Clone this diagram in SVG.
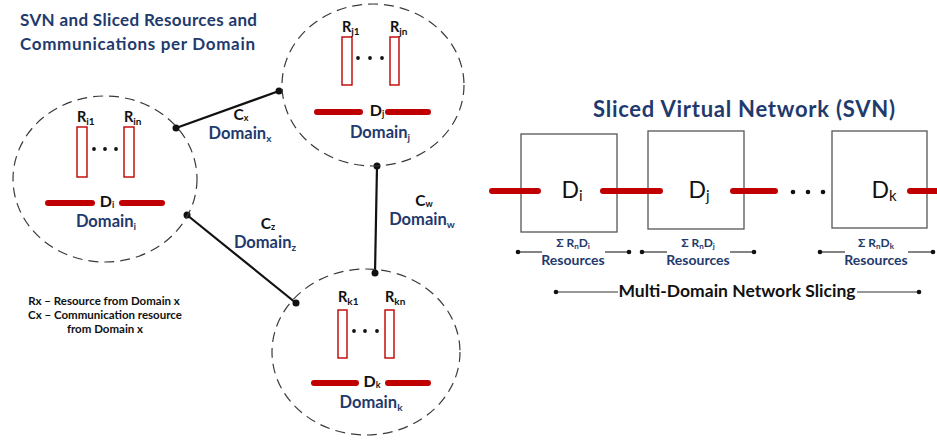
<svg xmlns="http://www.w3.org/2000/svg" width="937" height="441" viewBox="0 0 937 441">
<defs>
<style>
.dom{fill:none;stroke:#3a3a3a;stroke-width:1.2;stroke-dasharray:10 6}
.res{fill:#fff;stroke:#c00000;stroke-width:1.4}
.bar{stroke:#c00000;stroke-width:6;stroke-linecap:round}
.link{stroke:#111;stroke-width:2.2}
.pt{fill:#111}
.thin{stroke:#333;stroke-width:1.2}
.box{fill:#fff;stroke:#555;stroke-width:1.3}
text{font-family:Lato,"Open Sans","Liberation Sans",sans-serif;font-weight:bold}
.blue{fill:#1f3a6d}
.blk{fill:#111}
.rl{font-size:14.5px;fill:#111}
.dl{font-size:16px;fill:#111;text-anchor:middle}
.dn{font-size:16.5px;fill:#1f3a6d;text-anchor:middle}
.cl{font-size:15.5px;fill:#111;text-anchor:middle}
.big{font-size:23px;font-weight:normal;fill:#111;text-anchor:middle}
.sm{font-size:10px}
.xs{font-size:9px}
</style>
</defs>

<text class="blue" x="20" y="26" font-size="17" textLength="237">SVN and Sliced Resources and</text>
<text class="blue" x="20" y="50" font-size="17" textLength="235">Communications per Domain</text>

<g id="connectors">
<line class="link" x1="176" y1="128" x2="279" y2="91"/>
<line class="link" x1="187" y1="215" x2="296" y2="303"/>
<line class="link" x1="377" y1="166" x2="375" y2="273"/>
<circle class="pt" cx="176" cy="128" r="3.5"/>
<circle class="pt" cx="279" cy="91" r="3.5"/>
<circle class="pt" cx="187" cy="215" r="3.5"/>
<circle class="pt" cx="296" cy="303" r="3.5"/>
<circle class="pt" cx="377" cy="166" r="3.5"/>
<circle class="pt" cx="375" cy="273" r="3.5"/>
<text class="cl" x="241" y="120">C<tspan class="xs" dy="1">x</tspan></text>
<text class="dn" x="240" y="139">Domain<tspan class="sm" dy="3">x</tspan></text>
<text class="cl" x="268" y="229">C<tspan class="xs" dy="1">z</tspan></text>
<text class="dn" x="265" y="248">Domain<tspan class="sm" dy="3">z</tspan></text>
<text class="cl" x="424" y="206">C<tspan class="xs" dy="1">w</tspan></text>
<text class="dn" x="422" y="225">Domain<tspan class="sm" dy="3">w</tspan></text>
</g>

<g id="domain-i">
<ellipse class="dom" cx="105" cy="179" rx="92" ry="83"/>
<text class="rl" x="77" y="122">R<tspan class="sm" dy="3">i1</tspan></text>
<text class="rl" x="124" y="122">R<tspan class="sm" dy="3">in</tspan></text>
<rect class="res" x="77" y="127" width="10" height="50"/>
<rect class="res" x="124" y="127" width="10" height="50"/>
<circle class="pt" cx="94" cy="149" r="1.9"/><circle class="pt" cx="105" cy="149" r="1.9"/><circle class="pt" cx="116" cy="149" r="1.9"/>
<line class="bar" x1="48" y1="203" x2="92" y2="203"/>
<line class="bar" x1="122" y1="203" x2="162" y2="203"/>
<text class="dl" x="107" y="207">D<tspan class="xs" dy="1">i</tspan></text>
<text class="dn" x="106" y="227">Domain<tspan class="sm" dy="3">i</tspan></text>
</g>

<g id="domain-j">
<ellipse class="dom" cx="373" cy="85" rx="91" ry="81"/>
<text class="rl" x="342" y="32">R<tspan class="sm" dy="3">j1</tspan></text>
<text class="rl" x="390" y="32">R<tspan class="sm" dy="3">jn</tspan></text>
<rect class="res" x="342" y="37" width="10" height="48"/>
<rect class="res" x="390" y="37" width="9" height="48"/>
<circle class="pt" cx="358" cy="58" r="1.9"/><circle class="pt" cx="370" cy="58" r="1.9"/><circle class="pt" cx="382" cy="58" r="1.9"/>
<line class="bar" x1="317" y1="112" x2="360" y2="112"/>
<line class="bar" x1="388" y1="112" x2="428" y2="112"/>
<text class="dl" x="377" y="116">D<tspan class="xs" dy="1">j</tspan></text>
<text class="dn" x="380" y="138">Domain<tspan class="sm" dy="3">j</tspan></text>
</g>

<g id="domain-k">
<ellipse class="dom" cx="366" cy="352" rx="94" ry="83"/>
<text class="rl" x="338" y="302">R<tspan class="sm" dy="3">k1</tspan></text>
<text class="rl" x="385" y="302">R<tspan class="sm" dy="3">kn</tspan></text>
<rect class="res" x="338" y="310" width="9" height="48"/>
<rect class="res" x="385" y="310" width="9" height="48"/>
<circle class="pt" cx="354" cy="331" r="1.9"/><circle class="pt" cx="365" cy="331" r="1.9"/><circle class="pt" cx="377" cy="331" r="1.9"/>
<line class="bar" x1="314" y1="383" x2="356" y2="383"/>
<line class="bar" x1="388" y1="383" x2="428" y2="383"/>
<text class="dl" x="372" y="387">D<tspan class="xs" dy="1">k</tspan></text>
<text class="dn" x="371" y="408">Domain<tspan class="sm" dy="3">k</tspan></text>
</g>

<g id="legend">
<text class="blk" font-size="11.5" x="104" y="305" text-anchor="middle">Rx – Resource from Domain x</text>
<text class="blk" font-size="11.5" x="105" y="319" text-anchor="middle">Cx – Communication resource</text>
<text class="blk" font-size="11.5" x="105" y="333" text-anchor="middle">from Domain x</text>
</g>

<text class="blue" x="744" y="117" font-size="22" text-anchor="middle" textLength="302">Sliced Virtual Network (SVN)</text>

<g id="svn-i">
<rect class="box" x="521" y="134" width="96" height="98"/>
<text class="big" x="572" y="198">D<tspan font-size="15" dy="3">i</tspan></text>
</g>
<g id="svn-j">
<rect class="box" x="648" y="131" width="96" height="98"/>
<text class="big" x="699" y="198">D<tspan font-size="15" dy="3">j</tspan></text>
</g>
<g id="svn-k">
<rect class="box" x="832" y="131" width="95" height="97"/>
<text class="big" x="884" y="198">D<tspan font-size="15" dy="3">k</tspan></text>
</g>

<g id="svn-links">
<line class="bar" x1="492" y1="191" x2="538" y2="191"/>
<line class="bar" x1="603" y1="191" x2="660" y2="191"/>
<line class="bar" x1="733" y1="191" x2="775" y2="191"/>
<line class="bar" x1="910" y1="191" x2="945" y2="191"/>
<circle class="pt" cx="793" cy="192" r="2.3"/><circle class="pt" cx="808" cy="192" r="2.3"/><circle class="pt" cx="823" cy="192" r="2.3"/>
</g>

<g id="resources">
<line class="thin" x1="518" y1="252" x2="542" y2="252"/><line class="thin" x1="605" y1="252" x2="629" y2="252"/>
<circle class="pt" cx="518" cy="252" r="2.3"/><circle class="pt" cx="629" cy="252" r="2.3"/>
<text class="blue" font-size="12" x="573" y="247" text-anchor="middle">Σ R<tspan font-size="8" dy="2">n</tspan><tspan dy="-2">D</tspan><tspan font-size="8" dy="2">i</tspan></text>
<text class="blue" font-size="14" x="573" y="265" text-anchor="middle">Resources</text>

<line class="thin" x1="642" y1="252" x2="667" y2="252"/><line class="thin" x1="730" y1="252" x2="754" y2="252"/>
<circle class="pt" cx="642" cy="252" r="2.3"/><circle class="pt" cx="754" cy="252" r="2.3"/>
<text class="blue" font-size="12" x="698" y="247" text-anchor="middle">Σ R<tspan font-size="8" dy="2">n</tspan><tspan dy="-2">D</tspan><tspan font-size="8" dy="2">j</tspan></text>
<text class="blue" font-size="14" x="698" y="265" text-anchor="middle">Resources</text>

<line class="thin" x1="820" y1="252" x2="845" y2="252"/><line class="thin" x1="908" y1="252" x2="933" y2="252"/>
<circle class="pt" cx="820" cy="252" r="2.3"/><circle class="pt" cx="933" cy="252" r="2.3"/>
<text class="blue" font-size="12" x="876" y="247" text-anchor="middle">Σ R<tspan font-size="8" dy="2">n</tspan><tspan dy="-2">D</tspan><tspan font-size="8" dy="2">k</tspan></text>
<text class="blue" font-size="14" x="876" y="265" text-anchor="middle">Resources</text>
</g>

<g id="slicing">
<line class="thin" x1="556" y1="292" x2="618" y2="292"/><line class="thin" x1="857" y1="292" x2="919" y2="292"/>
<circle class="pt" cx="556" cy="292" r="2.3"/><circle class="pt" cx="919" cy="292" r="2.3"/>
<text class="blk" font-size="17.5" x="737" y="297" text-anchor="middle">Multi-Domain Network Slicing</text>
</g>
</svg>
